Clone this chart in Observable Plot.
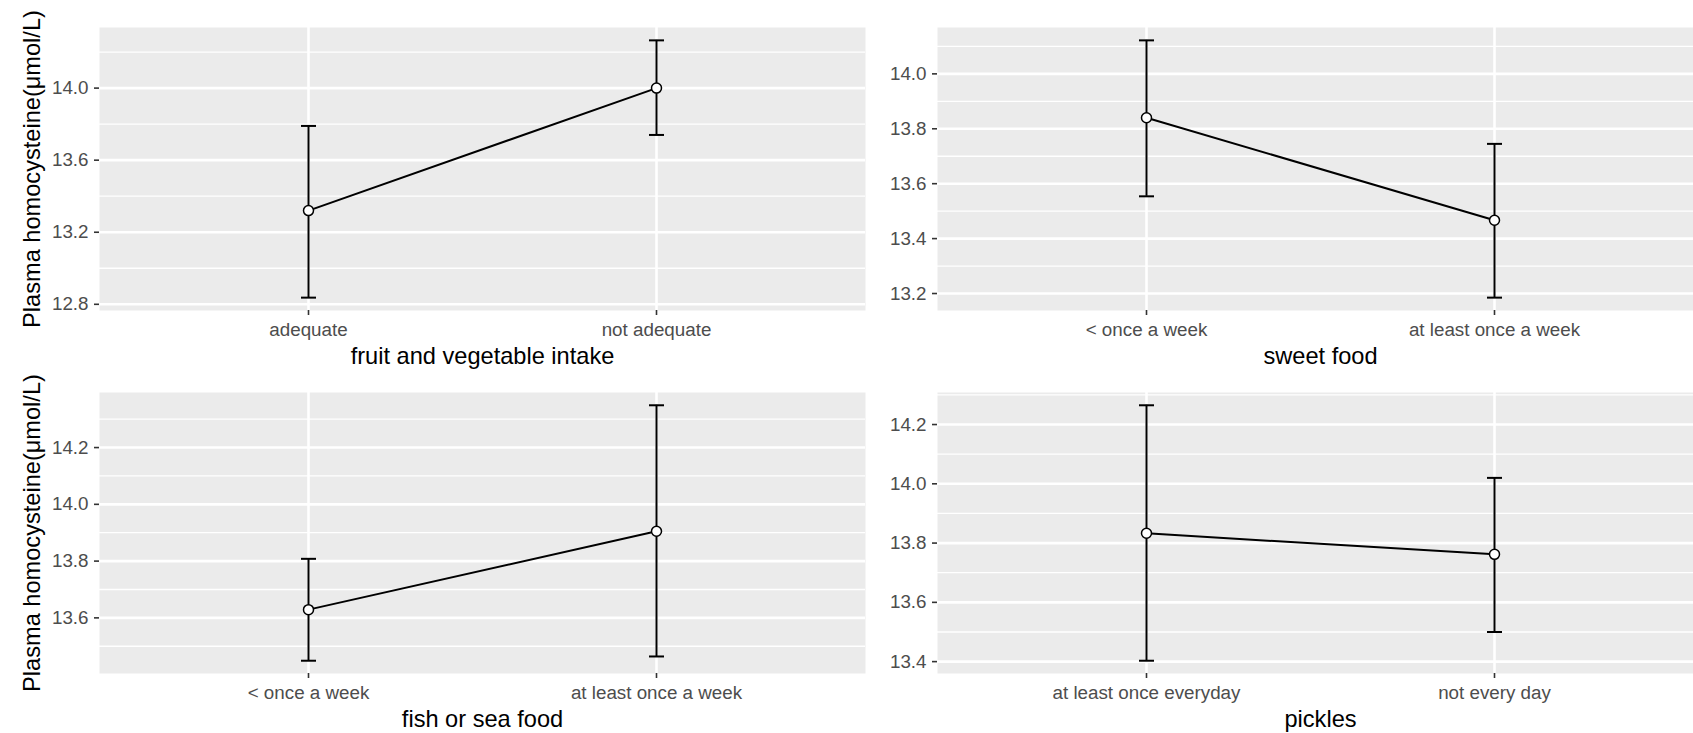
<!DOCTYPE html>
<html><head><meta charset="utf-8">
<script src="https://cdn.jsdelivr.net/npm/d3@7"></script>
<script src="https://cdn.jsdelivr.net/npm/@observablehq/plot@0.6"></script>
<style>
body{margin:0;background:#fff;}
#chart{position:relative;width:1693px;height:733px;overflow:hidden;background:#fff;}
#chart > svg{position:absolute;}
</style></head><body><div id="chart"></div>
<script>
const yTitle = "Plasma homocysteine(μmol/L)";

const fruitTitle = "fruit and vegetable intake";
const fruitCats = ["adequate", "not adequate"];
const fruitMean = [13.32, 14.00];
const fruitLo = [12.837, 13.74];
const fruitHi = [13.79, 14.265];
const fruitTicks = [12.8, 13.2, 13.6, 14.0];

const sweetTitle = "sweet food";
const sweetCats = ["< once a week", "at least once a week"];
const sweetMean = [13.84, 13.467];
const sweetLo = [13.554, 13.185];
const sweetHi = [14.122, 13.745];
const sweetTicks = [13.2, 13.4, 13.6, 13.8, 14.0];

const fishTitle = "fish or sea food";
const fishCats = ["< once a week", "at least once a week"];
const fishMean = [13.629, 13.905];
const fishLo = [13.449, 13.464];
const fishHi = [13.808, 14.349];
const fishTicks = [13.6, 13.8, 14.0, 14.2];

const pickleTitle = "pickles";
const pickleCats = ["at least once everyday", "not every day"];
const pickleMean = [13.833, 13.762];
const pickleLo = [13.403, 13.50];
const pickleHi = [14.265, 14.02];
const pickleTicks = [13.4, 13.6, 13.8, 14.0, 14.2];

const capSymbol = {draw(ctx) { ctx.moveTo(-7.5, 0); ctx.lineTo(7.5, 0); }};
const FONT = "'Liberation Sans', Arial, Helvetica, sans-serif";

function panel({cats, mean, lo, hi, ticks, xTitle, showY, left, top, width, height, marginLeft}) {
  const data = cats.map((c, i) => ({cat: c, mean: mean[i], lo: lo[i], hi: hi[i]}));
  const mn = d3.min(lo), mx = d3.max(hi);
  const pad = (mx - mn) * 0.05;
  const domain = [mn - pad, mx + pad];
  const step = ticks[1] - ticks[0];
  const minor = ticks.map(t => t - step / 2).concat([ticks[ticks.length - 1] + step / 2])
    .filter(v => v >= domain[0] && v <= domain[1]);
  const marks = [
    Plot.frame({fill: "#EBEBEB", stroke: "none"}),
    Plot.ruleY(minor, {stroke: "white", strokeWidth: 1.3}),
    Plot.ruleY(ticks, {stroke: "white", strokeWidth: 2.6}),
    Plot.ruleX(cats, {stroke: "white", strokeWidth: 2.6}),
    Plot.axisY(ticks, {tickSize: 5, tickPadding: 6, fontSize: 18.8, tickFormat: d3.format(".1f"), label: null, stroke: "#333333", strokeWidth: 1.6, fill: "#4D4D4D"}),
    Plot.axisX({tickSize: 5, tickPadding: 7, fontSize: 18.8, label: null, stroke: "#333333", strokeWidth: 1.6, fill: "#4D4D4D"}),
    Plot.ruleX(data, {x: "cat", y1: "lo", y2: "hi", stroke: "black", strokeWidth: 2}),
    Plot.dot(data, {x: "cat", y: "hi", symbol: capSymbol, stroke: "black", strokeWidth: 2, fill: "none"}),
    Plot.dot(data, {x: "cat", y: "lo", symbol: capSymbol, stroke: "black", strokeWidth: 2, fill: "none"}),
    Plot.line(data, {x: "cat", y: "mean", stroke: "black", strokeWidth: 2}),
    Plot.dot(data, {x: "cat", y: "mean", r: 5, fill: "white", stroke: "black", strokeWidth: 1.5}),
    Plot.text([xTitle], {text: d => d, frameAnchor: "bottom", dy: 46, fontSize: 23.6, fill: "black", lineAnchor: "middle"})
  ];
  if (showY) {
    marks.push(Plot.text([yTitle], {text: d => d, frameAnchor: "left", rotate: -90, dx: -67, fontSize: 23.6, fill: "black", textAnchor: "middle", lineAnchor: "middle"}));
  }
  const svg = Plot.plot({
    width, height,
    marginLeft, marginRight: 0, marginTop: 27, marginBottom: height - 27 - (height === 370 ? 283 : 281),
    style: {fontFamily: FONT, fontSize: "18.8px", background: "transparent", overflow: "visible"},
    x: {type: "point", domain: cats, padding: 0.6},
    y: {domain},
    marks
  });
  svg.style.left = left + "px";
  svg.style.top = top + "px";
  document.getElementById("chart").appendChild(svg);
}

panel({cats: fruitCats, mean: fruitMean, lo: fruitLo, hi: fruitHi, ticks: fruitTicks, xTitle: fruitTitle, showY: true, left: 0, top: 0, width: 865, height: 370, marginLeft: 99});
panel({cats: sweetCats, mean: sweetMean, lo: sweetLo, hi: sweetHi, ticks: sweetTicks, xTitle: sweetTitle, showY: false, left: 870, top: 0, width: 833, height: 370, marginLeft: 67});
panel({cats: fishCats, mean: fishMean, lo: fishLo, hi: fishHi, ticks: fishTicks, xTitle: fishTitle, showY: true, left: 0, top: 365, width: 865, height: 368, marginLeft: 99});
panel({cats: pickleCats, mean: pickleMean, lo: pickleLo, hi: pickleHi, ticks: pickleTicks, xTitle: pickleTitle, showY: false, left: 870, top: 365, width: 833, height: 368, marginLeft: 67});
</script></body></html>
